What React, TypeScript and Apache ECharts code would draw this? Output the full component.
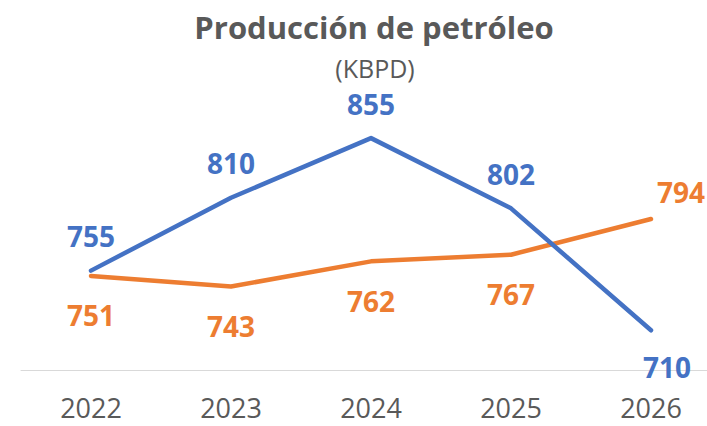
import React, { useEffect, useRef } from "react";
import * as echarts from "echarts";

const categories = ["2022", "2023", "2024", "2025", "2026"];
const blueValues = [755, 810, 855, 802, 710];
const orangeValues = [751, 743, 762, 767, 794];
const titleText = "Producción de petróleo";
const subtitleText = "(KBPD)";

const FONT = "'Open Sans', 'Noto Sans', sans-serif";
const BLUE = "#4472C4";
const ORANGE = "#ED7D31";
const GRAY = "#595959";

export default function App() {
  const ref = useRef<HTMLDivElement>(null);
  useEffect(() => {
    if (!ref.current) return;
    const chart = echarts.init(ref.current, undefined, { renderer: "svg" });
    const labelBase = {
      show: true,
      fontFamily: FONT,
      fontSize: 28,
      fontWeight: "bold" as const,
    };
    const blueData = blueValues.map((v, i) => {
      if (i === blueValues.length - 1) {
        return { value: v, label: { position: "bottom", distance: 22, offset: [16, 0] } };
      }
      return { value: v };
    });
    const orangeData = orangeValues.map((v, i) => {
      if (i === orangeValues.length - 1) {
        return { value: v, label: { position: "top", distance: 20, offset: [30, 8] } };
      }
      return { value: v };
    });
    chart.setOption({
      animation: false,
      backgroundColor: "#ffffff",
      title: [
        {
          text: titleText,
          left: 369,
          top: 6,
          textAlign: "center",
          textStyle: { fontFamily: FONT, fontSize: 31, fontWeight: "bold", color: GRAY },
        },
        {
          text: subtitleText,
          left: 370,
          top: 50,
          textAlign: "center",
          textStyle: { fontFamily: FONT, fontSize: 25, fontWeight: "normal", color: GRAY },
        },
      ],
      grid: {
        left: 21,
        width: 700,
        top: 105,
        height: 265,
        containLabel: false,
        outerBoundsMode: "none",
      },
      xAxis: {
        type: "category",
        data: categories,
        boundaryGap: true,
        axisLine: { lineStyle: { color: "#D9D9D9", width: 1 } },
        axisTick: { show: false },
        axisLabel: {
          fontFamily: FONT,
          fontSize: 27,
          lineHeight: 27,
          color: GRAY,
          margin: 24,
        },
      },
      yAxis: {
        type: "value",
        min: 680,
        max: 880,
        show: false,
        splitLine: { show: false },
      },
      series: [
        {
          type: "line",
          data: blueData,
          symbol: "circle",
          symbolSize: 1,
          showSymbol: true,
          clip: false,
          lineStyle: { color: BLUE, width: 4.5, cap: "round", join: "round" },
          itemStyle: { color: BLUE },
          label: { ...labelBase, position: "top", distance: 20, color: BLUE },
          z: 3,
        },
        {
          type: "line",
          data: orangeData,
          symbol: "circle",
          symbolSize: 1,
          showSymbol: true,
          clip: false,
          lineStyle: { color: ORANGE, width: 4.5, cap: "round", join: "round" },
          itemStyle: { color: ORANGE },
          label: { ...labelBase, position: "bottom", distance: 25, color: ORANGE },
          z: 2,
        },
      ],
    });
    return () => chart.dispose();
  }, []);
  return (
    <div
      ref={ref}
      style={{ position: "fixed", left: 0, top: 0, width: 707, height: 426 }}
    />
  );
}
